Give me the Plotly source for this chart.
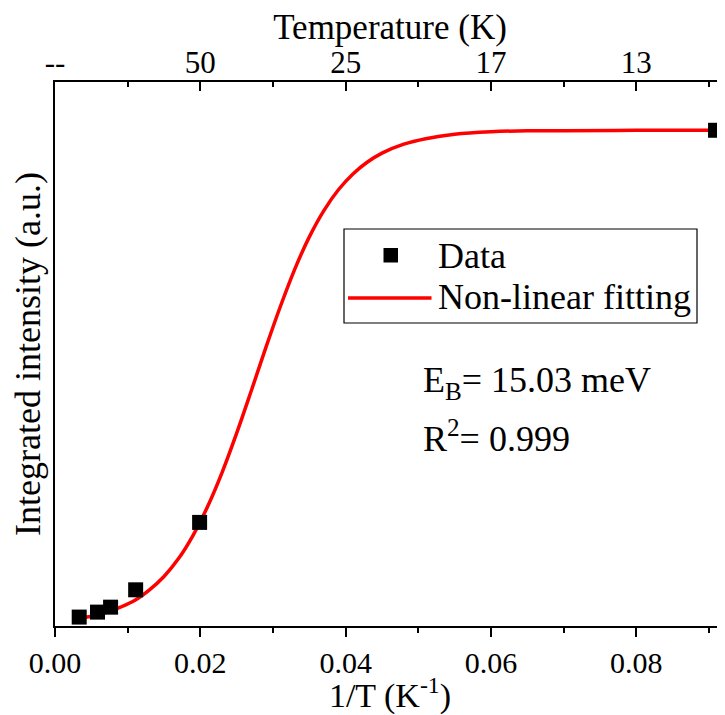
import plotly.graph_objects as go

# ---- data ----
inv_T = [0.00333, 0.00585, 0.00765, 0.0111, 0.0199, 0.0909]
intensity = [0.018, 0.028, 0.038, 0.073, 0.209, 1.0]

fit_x = [0.0031, 0.005, 0.007, 0.009, 0.011, 0.013, 0.015, 0.017, 0.019, 0.021,
         0.023, 0.025, 0.027, 0.029, 0.031, 0.033, 0.035, 0.037, 0.039, 0.041,
         0.043, 0.045, 0.048, 0.051, 0.055, 0.060, 0.065, 0.070, 0.080, 0.0909]
fit_y = [0.017, 0.019, 0.027, 0.038, 0.052, 0.073, 0.100, 0.136, 0.183, 0.241,
         0.310, 0.389, 0.474, 0.561, 0.644, 0.720, 0.785, 0.838, 0.880, 0.912,
         0.936, 0.954, 0.972, 0.983, 0.992, 0.997, 0.999, 0.999, 1.0, 1.0]

bottom_ticks = [0.0, 0.02, 0.04, 0.06, 0.08]
top_tick_text = ["--", "50", "25", "17", "13"]

legend_labels = ["Data", "Non-linear fitting"]
fit_text = ["E<sub>B</sub>= 15.03 meV", "R<sup>2</sup>= 0.999"]

FONT = "Liberation Serif, Times New Roman, serif"
OFF = 8  # page body margin
W, H = 725 - OFF, 715 - OFF
ML, MR, MT, MB = 47, 0, 74, 89
PW, PH = W - ML - MR, H - MT - MB


def px(xs):
    return (xs - OFF - ML) / PW


def py(ys):
    return (H - MB - (ys - OFF)) / PH


fig = go.Figure()
fig.add_trace(go.Scatter(x=fit_x, y=fit_y, mode="lines", line_shape="spline",
                         line=dict(color="#FF0000", width=3.5),
                         showlegend=False, hoverinfo="skip", cliponaxis=False))
fig.add_trace(go.Scatter(x=inv_T, y=intensity, mode="markers",
                         marker=dict(symbol="square", size=15, color="black",
                                     line=dict(width=0)),
                         showlegend=False, hoverinfo="skip", cliponaxis=False))
# invisible trace to anchor the top axis
fig.add_trace(go.Scatter(x=inv_T, y=intensity, xaxis="x2", mode="markers",
                         marker=dict(opacity=0), showlegend=False, hoverinfo="skip"))

xr = [0, 0.0922]
fig.update_layout(
    width=W, height=H,
    margin=dict(l=ML, r=MR, t=MT, b=MB, autoexpand=False),
    paper_bgcolor="white", plot_bgcolor="white",
    font=dict(family=FONT, color="black", size=31),
    xaxis=dict(range=xr, tickvals=bottom_ticks, tickformat=".2f",
               ticks="outside", ticklen=9, tickwidth=2, tickcolor="black",
               minor=dict(dtick=0.01, tick0=0, ticks="outside", ticklen=5,
                          tickwidth=2, tickcolor="black", showgrid=False),
               showline=True, linewidth=2, linecolor="black",
               showgrid=False, zeroline=False, automargin=False,
               tickfont=dict(size=30),
               title=dict(text="1/T (K<sup>-1</sup>)", font=dict(size=34), standoff=1)),
    xaxis2=dict(range=xr, overlaying="x", side="top", anchor="y",
                tickvals=bottom_ticks, ticktext=top_tick_text,
                ticks="inside", ticklen=9, tickwidth=2, tickcolor="black",
                minor=dict(dtick=0.01, tick0=0, ticks="inside", ticklen=5,
                           tickwidth=2, tickcolor="black", showgrid=False),
                showline=True, linewidth=2, linecolor="black",
                showgrid=False, zeroline=False, automargin=False,
                tickfont=dict(size=31), ticklabelstandoff=-5,
                title=dict(text="Temperature (K)", font=dict(size=35), standoff=0)),
    yaxis=dict(range=[0, 1.0974], showticklabels=False, ticks="",
               showline=True, linewidth=2, linecolor="black",
               showgrid=False, zeroline=False, automargin=False,
               title=dict(text="Integrated intensity (a.u.)", font=dict(size=36), standoff=3)),
    showlegend=False,
)

# custom legend box
fig.add_shape(type="rect", xref="paper", yref="paper",
              x0=px(344), x1=px(697), y0=py(323), y1=py(229),
              line=dict(color="black", width=1.2), fillcolor="white", layer="above")
fig.add_shape(type="rect", xref="paper", yref="paper",
              x0=px(383.5), x1=px(398), y0=py(262.5), y1=py(248),
              line=dict(width=0), fillcolor="black", layer="above")
fig.add_shape(type="line", xref="paper", yref="paper",
              x0=px(348), x1=px(431.5), y0=py(298), y1=py(298),
              line=dict(color="#FF0000", width=3.5), layer="above")
fig.add_annotation(xref="paper", yref="paper", x=px(436), y=py(256),
                   text=legend_labels[0], showarrow=False,
                   xanchor="left", yanchor="middle", font=dict(size=36))
fig.add_annotation(xref="paper", yref="paper", x=px(436), y=py(297),
                   text=legend_labels[1], showarrow=False,
                   xanchor="left", yanchor="middle", font=dict(size=36))
fig.add_annotation(xref="paper", yref="paper", x=px(421), y=py(383),
                   text=fit_text[0], showarrow=False,
                   xanchor="left", yanchor="middle", font=dict(size=36))
fig.add_annotation(xref="paper", yref="paper", x=px(421), y=py(436),
                   text=fit_text[1], showarrow=False,
                   xanchor="left", yanchor="middle", font=dict(size=36))

fig.write_html("out.html")
